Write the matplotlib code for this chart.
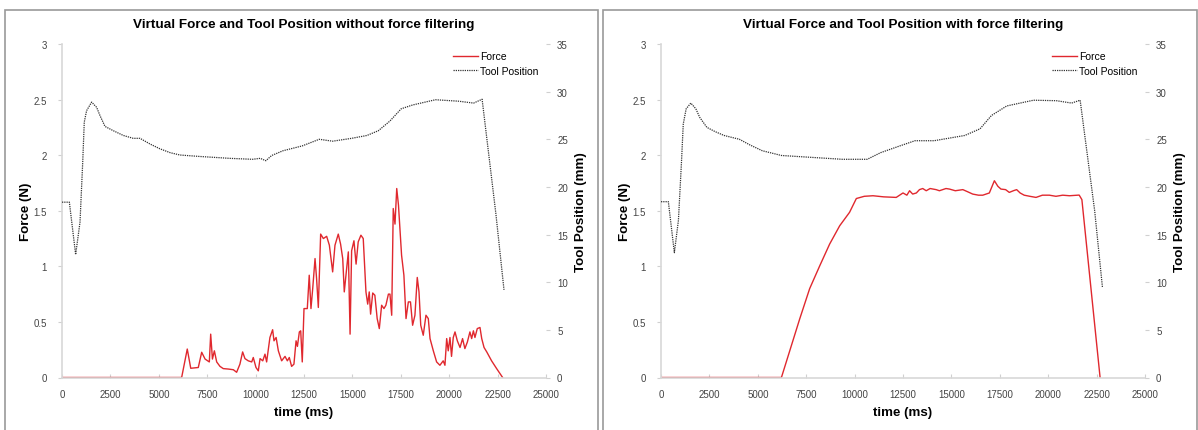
import matplotlib
matplotlib.use("Agg")
import matplotlib.pyplot as plt
from matplotlib.patches import Rectangle
from matplotlib.ticker import FormatStrFormatter

plt.rcParams["font.family"] = ["Liberation Sans", "DejaVu Sans"]

# ---- data ----
# left: without force filtering
t_force_raw = [0, 6180, 6470, 6650, 7040, 7215, 7390, 7610, 7680, 7770, 7870, 7990, 8160, 8330,
               8590, 8850, 9020, 9190, 9330, 9450, 9620, 9800, 9880, 10020, 10140, 10230, 10370,
               10485, 10570, 10740, 10880, 10950, 11060, 11175, 11345, 11520, 11640, 11740, 11860,
               11980, 12090, 12160, 12260, 12330, 12410, 12500, 12670, 12770, 12860, 12950, 13070,
               13150, 13240, 13360, 13500, 13670, 13810, 13980, 14100, 14270, 14390, 14500, 14580,
               14700, 14790, 14880, 14960, 15080, 15190, 15300, 15440, 15560, 15700, 15790, 15870,
               15940, 16050, 16160, 16280, 16390, 16510, 16630, 16730, 16860, 16940, 17030, 17110,
               17200, 17290, 17380, 17540, 17660, 17770, 17890, 18000, 18110, 18230, 18350, 18440,
               18530, 18660, 18800, 18920, 19010, 19180, 19350, 19520, 19690, 19780, 19870, 19950,
               20040, 20120, 20210, 20300, 20420, 20560, 20690, 20810, 20940, 21070, 21160, 21250,
               21330, 21450, 21590, 21680, 21800, 21940, 22190, 22450, 22760]
force_raw = [0, 0, 0.256, 0.083, 0.09, 0.227, 0.166, 0.14, 0.39, 0.166, 0.24, 0.14, 0.10, 0.08,
             0.076, 0.07, 0.047, 0.12, 0.23, 0.17, 0.15, 0.14, 0.18, 0.09, 0.06, 0.17, 0.15,
             0.21, 0.14, 0.36, 0.43, 0.33, 0.36, 0.24, 0.15, 0.19, 0.15, 0.18, 0.10,
             0.12, 0.33, 0.28, 0.41, 0.42, 0.14, 0.62, 0.62, 0.92, 0.62, 0.80, 1.07,
             0.89, 0.63, 1.29, 1.25, 1.27, 1.19, 0.95, 1.19, 1.29, 1.20, 1.07, 0.77,
             0.98, 1.13, 0.39, 1.14, 1.23, 1.02, 1.22, 1.28, 1.25, 0.77, 0.66, 0.77,
             0.57, 0.76, 0.74, 0.53, 0.44, 0.65, 0.62, 0.65, 0.75, 0.75, 0.56, 1.52,
             1.38, 1.70, 1.55, 1.10, 0.92, 0.53, 0.68, 0.68, 0.47, 0.56, 0.90, 0.77,
             0.47, 0.38, 0.56, 0.53, 0.35, 0.24, 0.14, 0.11, 0.15, 0.11, 0.35, 0.24,
             0.36, 0.19, 0.36, 0.41, 0.33, 0.27, 0.35, 0.26, 0.32, 0.41, 0.35, 0.42,
             0.36, 0.44, 0.45, 0.35, 0.27, 0.23, 0.15, 0.08, 0.0]

t_pos_left = [0, 380, 705, 930, 1070, 1150, 1270, 1530, 1790, 1960, 2220, 2650, 3170, 3680,
              4030, 4550, 5060, 5580, 6090, 7090, 8660, 9840, 10240, 10530, 10830, 11420,
              12400, 13290, 13980, 14960, 15750, 16340, 16930, 17520, 18110, 19290, 20470,
              21260, 21700, 22410, 22830]
pos_left = [18.4, 18.4, 12.9, 16.3, 22.6, 26.8, 28.0, 28.9, 28.35, 27.5, 26.35, 25.9, 25.4, 25.1,
            25.1, 24.5, 24.0, 23.6, 23.35, 23.2, 23.0, 22.9, 23.0, 22.75, 23.3, 23.8,
            24.3, 25.0, 24.8, 25.1, 25.4, 25.9, 26.9, 28.2, 28.6, 29.15, 29.0,
            28.8, 29.2, 17.2, 9.2]

# right: with force filtering
t_force_filt = [0, 6220, 6650, 7170, 7680, 8200, 8710, 9230, 9740, 10090, 10500, 10950, 11500,
                12150, 12500, 12700, 12840, 13000, 13190, 13350, 13520, 13700, 13900, 14210,
                14380, 14720, 14900, 15200, 15590, 15850, 16100, 16400, 16620, 16960, 17220,
                17400, 17560, 17800, 17990, 18200, 18370, 18550, 18760, 19050, 19370, 19700,
                20060, 20400, 20750, 21100, 21600, 21740, 22680]
force_filt = [0, 0, 0.24, 0.53, 0.80, 1.005, 1.20, 1.365, 1.486, 1.61, 1.63, 1.635, 1.625,
              1.62, 1.66, 1.64, 1.68, 1.65, 1.66, 1.69, 1.70, 1.68, 1.70, 1.69,
              1.68, 1.70, 1.695, 1.68, 1.69, 1.67, 1.65, 1.64, 1.64, 1.66, 1.77,
              1.72, 1.695, 1.69, 1.665, 1.68, 1.69, 1.66, 1.64, 1.63, 1.62, 1.64,
              1.64, 1.63, 1.64, 1.635, 1.641, 1.60, 0.0]

t_pos_right = [0, 380, 690, 900, 1060, 1150, 1300, 1540, 1800, 2000, 2370, 2800, 3260, 4050,
               4600, 5230, 6220, 7790, 9370, 10650, 11350, 12330, 13120, 14110, 15690, 16480,
               17070, 17860, 19240, 20420, 21210, 21650, 22400, 22800]
pos_right = [18.45, 18.45, 13.1, 16.5, 22.7, 26.6, 28.2, 28.8, 28.2, 27.3, 26.25, 25.8, 25.4, 25.0,
             24.4, 23.8, 23.3, 23.1, 22.9, 22.9, 23.6, 24.3, 24.85, 24.85, 25.4, 26.1,
             27.5, 28.5, 29.1, 29.05, 28.8, 29.1, 17.5, 9.5]

titles = ["Virtual Force and Tool Position without force filtering",
          "Virtual Force and Tool Position with force filtering"]
x_ticks = list(range(0, 25001, 2500))
f_ticks = [0, 0.5, 1, 1.5, 2, 2.5, 3]
p_ticks = [0, 5, 10, 15, 20, 25, 30, 35]

W, H = 1198, 431
fig = plt.figure(figsize=(W / 100, H / 100), dpi=100)

# panel borders
for x0, x1 in [(5, 598), (603, 1197)]:
    fig.patches.append(Rectangle((x0 / W, -0.05), (x1 - x0) / W, (H - 11) / H + 0.05,
                                 transform=fig.transFigure, fill=False,
                                 edgecolor="#9a9a9a", linewidth=1.2))

panels = [
    (62, t_force_raw, force_raw, t_pos_left, pos_left, titles[0]),
    (661, t_force_filt, force_filt, t_pos_right, pos_right, titles[1]),
]

for px, tf, fv, tp, pv, title in panels:
    ax = fig.add_axes([px / W, (H - 378.5) / H, 484 / W, 333.5 / H])
    ax2 = ax.twinx()

    ln1, = ax.plot(tf, fv, color="#e0282e", linewidth=1.0, label="Force")
    ln2, = ax2.plot(tp, pv, color="#333333", linewidth=0.9, linestyle=(0, (1, 0.8)),
                    label="Tool Position")

    ax.set_xlim(0, 25000)
    ax.set_ylim(0, 3)
    ax2.set_ylim(0, 35)
    ax.set_xticks(x_ticks)
    ax.set_yticks(f_ticks)
    ax2.set_yticks(p_ticks)
    ax.yaxis.set_major_formatter(FormatStrFormatter("%g"))

    for a in (ax, ax2):
        for s in a.spines.values():
            s.set_visible(False)
        a.tick_params(labelsize=7, labelcolor="#444444", color="#d0d0d0", length=3, width=0.8)
    ax.spines["left"].set_visible(True)
    ax.spines["bottom"].set_visible(True)
    ax.spines["left"].set_color("#d8d8d8")
    ax.spines["bottom"].set_color("#d8d8d8")
    ax.spines["left"].set_linewidth(1.2)
    ax.spines["bottom"].set_linewidth(1.2)
    ax.tick_params(axis="x", direction="in", pad=8)
    ax.tick_params(axis="y", direction="out", pad=8)
    ax2.tick_params(axis="y", direction="out", pad=5)

    ax.set_xlabel("time (ms)", fontsize=9.6, fontweight="bold", labelpad=5)
    ax.set_ylabel("Force (N)", fontsize=9.6, fontweight="bold", labelpad=1)
    ax2.set_ylabel("Tool Position (mm)", fontsize=9.6, fontweight="bold", labelpad=5)
    ax.set_title(title, fontsize=9.7, fontweight="bold", pad=12)

    ax.legend([ln1, ln2], ["Force", "Tool Position"], loc="upper right",
              bbox_to_anchor=(1.0, 1.0), frameon=False, fontsize=7.5,
              handlelength=2.4, handletextpad=0.2, labelspacing=0.45, borderaxespad=0.3)

fig.savefig("out.png", dpi=100)
